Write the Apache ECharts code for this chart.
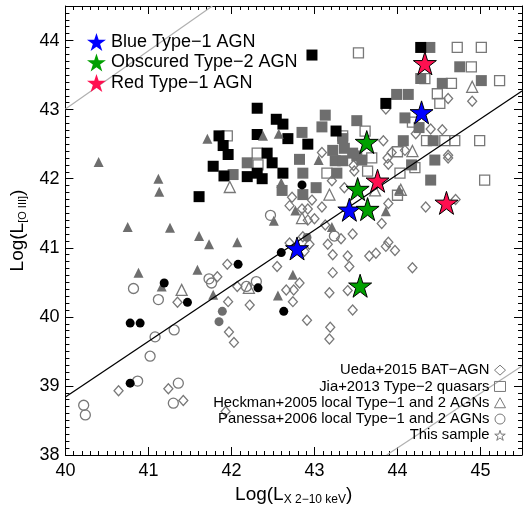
<!DOCTYPE html>
<html><head><meta charset="utf-8">
<script src="https://cdn.jsdelivr.net/npm/echarts@6/dist/echarts.min.js"></script>
<style>html,body{margin:0;padding:0;background:#fff}#c{width:526px;height:511px}</style>
</head><body><div id="c"></div>
<script>
// ---- data (log luminosities) ----
const uedaDiamonds = [[41.95,40.76],[41.83,40.58],[41.96,40.22],[42.55,40.73],[42.22,40.17],[42.66,40.39],[42.75,40.39],[42.82,40.49],[42.74,40.22],[42.91,39.95],[43.18,40.35],[43.22,40.90],[43.40,40.88],[43.40,40.38],[43.46,40.10],[43.22,40.64],[43.42,40.73],[42.94,41.05],[42.88,40.95],[42.73,41.73],[42.97,41.69],[43.00,41.42],[43.13,41.33],[43.46,41.20],[43.32,41.13],[43.48,42.11],[43.21,41.97],[43.36,41.87],[43.09,41.59],[42.85,41.56],[43.16,41.05],[43.66,40.88],[43.89,41.64],[43.81,41.35],[44.34,41.59],[44.70,41.70],[44.18,40.71],[43.97,40.96],[43.89,41.08],[43.86,41.02],[43.74,40.92],[44.61,42.30],[43.86,43.01],[44.61,43.16],[44.90,43.12],[44.54,42.71],[44.40,42.72],[44.22,42.65],[43.83,42.55],[43.88,42.30],[44.61,42.34],[44.09,42.41],[43.09,42.38],[42.07,40.44],[41.35,40.21],[43.19,39.85],[43.18,39.68],[41.97,39.78],[42.03,39.63],[40.64,38.93],[41.24,38.96],[41.42,38.79],[41.93,38.63],[42.86,41.16],[42.70,41.07],[42.92,41.40],[42.70,41.61],[42.92,41.56],[43.89,42.21],[43.47,42.19],[43.93,42.38]];
const jiaOpen = [[43.53,43.82],[44.72,43.90],[45.01,43.90],[44.33,43.45],[44.65,43.38],[44.89,43.62],[45.23,43.42],[44.48,43.23],[44.51,43.09],[44.18,42.82],[44.35,42.55],[44.57,42.55],[44.69,42.55],[44.99,42.55],[42.31,42.37],[41.95,42.62],[43.34,42.62],[43.61,42.69],[43.69,42.30],[45.05,41.98],[44.00,41.76],[44.03,42.08],[43.64,42.11],[43.15,42.08],[42.32,42.20],[44.21,42.16],[44.00,42.39]];
const jiaGray = [[44.39,43.90],[44.28,43.45],[44.75,43.62],[44.54,43.38],[45.01,43.42],[43.99,43.22],[44.13,43.22],[44.09,42.88],[44.26,42.74],[44.07,42.55],[44.43,42.55],[44.45,42.27],[44.40,41.98],[43.13,42.92],[43.09,42.75],[43.51,42.84],[42.85,42.67],[43.34,42.58],[43.36,42.44],[43.22,42.41],[43.51,42.33],[42.82,42.28],[42.19,42.23],[42.02,42.06],[42.86,42.08],[43.27,42.08],[43.25,42.26],[43.34,42.26],[43.57,42.27],[42.61,41.83],[42.86,41.77],[43.02,41.87],[44.17,42.20],[43.46,42.37]];
const jiaBlack = [[42.97,43.79],[44.28,43.90],[43.86,43.09],[42.31,43.02],[42.54,42.86],[42.62,42.79],[42.31,42.64],[42.68,42.58],[42.92,42.50],[43.26,42.69],[41.85,42.62],[41.90,42.48],[41.96,42.35],[41.78,42.18],[41.91,42.04],[42.19,42.03],[42.31,42.08],[42.37,42.00],[42.49,42.23],[42.43,42.37],[42.62,42.08],[41.61,41.74]];
const heckmanOpen = [[41.40,40.39],[41.98,41.88],[43.18,41.77],[42.85,41.43],[44.90,43.33],[44.18,42.40],[42.21,40.42],[44.04,41.84],[43.73,41.83]];
const heckmanFilled = [[40.40,42.24],[41.12,42.00],[41.13,41.81],[40.75,41.30],[41.26,41.29],[41.61,41.17],[41.73,41.05],[40.88,40.64],[41.59,40.68],[41.16,40.44],[41.78,40.32],[41.71,42.58],[42.77,41.54],[42.51,41.39],[42.07,41.08],[42.74,40.61],[42.56,40.31],[43.05,42.27],[42.38,42.62],[42.57,42.65],[42.60,41.94],[43.86,41.53],[44.02,41.84],[43.21,41.30]];
const panessaOpen = [[40.82,40.41],[41.12,40.25],[41.73,40.55],[41.76,40.49],[42.47,41.47],[42.30,40.51],[42.18,40.44],[43.24,41.17],[41.08,39.71],[41.31,39.81],[41.02,39.43],[40.87,39.07],[41.36,39.04],[41.30,38.75],[40.22,38.72],[40.24,38.58]];
const panessaBlack = [[41.19,40.49],[41.47,40.21],[40.78,39.91],[40.90,39.91],[42.85,41.91],[42.60,40.93],[42.08,40.76],[42.32,40.42],[42.63,40.08],[40.78,39.04]];
const panessaGray = [[41.89,40.08],[41.85,39.93],[42.91,41.15]];
const blueStars = [[42.79,40.99],[43.42,41.55],[44.29,42.96]];
const greenStars = [[43.52,41.85],[43.64,41.56],[43.55,40.45],[43.63,42.53]];
const redStars = [[44.33,43.67],[43.76,41.97],[44.59,41.65]];
const fitLine = [[40,38.84],[45.5,43.27]];
const upperLine = [[40,43.01],[41.77,44.5]];
const lowerLine = [[43.87,38],[45.5,39.29]];
const xTicks = [40,41,42,43,44,45];
const yTicks = [38,39,40,41,42,43,44];

const STAR = 'path://M50,0 L61.2,34.5 L97.6,34.5 L68.2,55.9 L79.4,90.5 L50,69.1 L20.6,90.5 L31.8,55.9 L2.4,34.5 L38.8,34.5 Z';
const FONT = 'Liberation Sans';
const GRAYF = '#6e6e6e', GRAYS = '#787878';

function majorAxis(pos, min, max, showLabel, ticks) {
  return {type:'value', position:pos, min:min, max:max, interval:1,
    axisLine:{show:true, onZero:false, lineStyle:{color:'#000', width:1}},
    axisTick:{show:true, inside:true, length:8, lineStyle:{color:'#000', width:1}},
    axisLabel:{show:showLabel, inside:false, margin:7, fontSize:18, fontFamily:FONT, color:'#000',
      formatter: v => ticks.indexOf(v) >= 0 ? String(v) : ''},
    splitLine:{show:false}};
}
function minorAxis(pos, min, max) {
  return {type:'value', position:pos, min:min, max:max, interval:0.1,
    axisLine:{show:false, onZero:false},
    axisTick:{show:true, inside:true, length:4, lineStyle:{color:'#000', width:1}},
    axisLabel:{show:false}, splitLine:{show:false}};
}
const xa0 = majorAxis('bottom', 40, 45.5, true, xTicks);
xa0.name = '{a|Log(L}{b|X 2\u221210 keV}{a|)}';
xa0.nameLocation = 'middle'; xa0.nameGap = 29;
xa0.nameTextStyle = {rich:{a:{fontSize:19, fontFamily:FONT, color:'#000', lineHeight:22},
  b:{fontSize:12, fontFamily:FONT, color:'#000', verticalAlign:'bottom', padding:[10,0,0,0]}}};
const ya0 = majorAxis('left', 38, 44.5, true, yTicks);
ya0.axisLabel.margin = 6;
ya0.name = '{a|Log(L}{b|[O III]}{a|)}';
ya0.nameLocation = 'middle'; ya0.nameGap = 32; ya0.nameRotate = 90;
ya0.nameTextStyle = {rich:{a:{fontSize:19, fontFamily:FONT, color:'#000', lineHeight:22},
  b:{fontSize:11, fontFamily:FONT, color:'#000', verticalAlign:'bottom', padding:[10,0,0,0]}}};

function scatter(name, data, symbol, size, style, z) {
  return {type:'scatter', name:name, data:data, symbol:symbol, symbolSize:size,
    itemStyle:Object.assign({opacity:1}, style), z:z||2, xAxisIndex:0, yAxisIndex:0, silent:true};
}
function line(data, color, width) {
  return {type:'line', data:data, symbol:'none', lineStyle:{color:color, width:width}, z:3,
    xAxisIndex:0, yAxisIndex:0, silent:true};
}
const openStyle = {color:'rgba(0,0,0,0)', borderColor:GRAYS, borderWidth:1.3};

const option = {
  animation:false,
  grid:{left:65, right:4, top:6, bottom:48, containLabel:false},
  xAxis:[xa0, minorAxis('bottom',40,45.5), majorAxis('top',40,45.5,false,xTicks), minorAxis('top',40,45.5)],
  yAxis:[ya0, minorAxis('left',38,44.5), majorAxis('right',38,44.5,false,yTicks), minorAxis('right',38,44.5)],
  legend:[{
    selectedMode:false, orient:'vertical', left:82, top:28, itemWidth:19, itemHeight:18, itemGap:2.5,
    textStyle:{fontSize:18, fontFamily:FONT, color:'#000'},
    data:[
      {name:'Blue Type\u22121 AGN', icon:STAR, itemStyle:{color:'#0000ff', borderWidth:0, opacity:1}},
      {name:'Obscured Type\u22122 AGN', icon:STAR, itemStyle:{color:'#00a000', borderWidth:0, opacity:1}},
      {name:'Red Type\u22121 AGN', icon:STAR, itemStyle:{color:'#ff1050', borderWidth:0, opacity:1}}]
  },{
    selectedMode:false, orient:'vertical', align:'right', right:15, top:357, itemWidth:11, itemHeight:10, itemGap:0,
    textStyle:{fontSize:14.8, fontFamily:FONT, color:'#000', lineHeight:16.3},
    data:[
      {name:'Ueda+2015 BAT\u2212AGN', icon:'diamond', itemStyle:{color:'rgba(0,0,0,0)', borderColor:GRAYS, borderWidth:1}},
      {name:'Jia+2013 Type\u22122 quasars', icon:'rect', itemStyle:{color:'rgba(0,0,0,0)', borderColor:GRAYS, borderWidth:1}},
      {name:'Heckman+2005 local Type\u22121 and 2 AGNs', icon:'triangle', itemStyle:{color:'rgba(0,0,0,0)', borderColor:GRAYS, borderWidth:1}},
      {name:'Panessa+2006 local Type\u22121 and 2 AGNs', icon:'circle', itemStyle:{color:'rgba(0,0,0,0)', borderColor:GRAYS, borderWidth:1}},
      {name:'This sample', icon:STAR, itemStyle:{color:'rgba(0,0,0,0)', borderColor:GRAYS, borderWidth:1}}]
  }],
  series:[
    line(upperLine, '#b0b0b0', 1.2),
    line(lowerLine, '#b0b0b0', 1.2),
    scatter('Ueda+2015 BAT\u2212AGN', uedaDiamonds, 'diamond', [9,10], openStyle, 2),
    scatter('Jia+2013 Type\u22122 quasars', jiaOpen, 'rect', 10, openStyle, 2),
    scatter('Jia gray', jiaGray, 'rect', 11, {color:GRAYF}, 2),
    scatter('Jia black', jiaBlack, 'rect', 11, {color:'#000'}, 2),
    scatter('Heckman+2005 local Type\u22121 and 2 AGNs', heckmanOpen, 'triangle', 11, openStyle, 2),
    scatter('Heckman filled', heckmanFilled, 'triangle', 10, {color:GRAYF}, 2),
    scatter('Panessa+2006 local Type\u22121 and 2 AGNs', panessaOpen, 'circle', 10, openStyle, 2),
    scatter('Panessa black', panessaBlack, 'circle', 9, {color:'#000'}, 2),
    scatter('Panessa gray', panessaGray, 'circle', 9, {color:GRAYF}, 2),
    line(fitLine, '#000', 1.3),
    scatter('This sample', [], STAR, 14, openStyle, 2),
    scatter('Blue Type\u22121 AGN', blueStars, STAR, 23, {color:'#0000ff', borderColor:'#000', borderWidth:1}, 5),
    scatter('Obscured Type\u22122 AGN', greenStars, STAR, 23, {color:'#00a000', borderColor:'#000', borderWidth:1}, 5),
    scatter('Red Type\u22121 AGN', redStars, STAR, 23, {color:'#ff1050', borderColor:'#000', borderWidth:1}, 5)
  ]
};
const chart = echarts.init(document.getElementById('c'), null, {renderer:'canvas'});
chart.setOption(option);
</script></body></html>
